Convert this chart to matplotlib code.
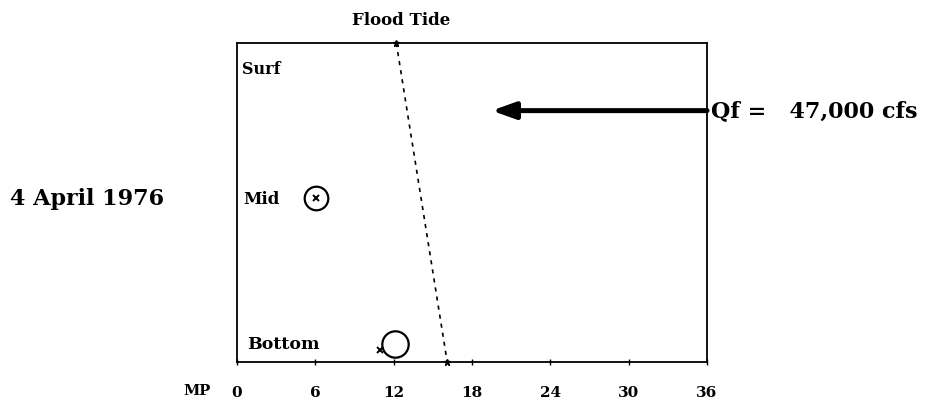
import numpy as np
import matplotlib.pyplot as plt

# river mile (MP) ticks
mp_ticks = [0, 6, 12, 18, 24, 30, 36]
mp_labels = ['0', '6', '12', '18', '24', '30', '36']

# depth levels (0 = bottom, 1 = surface)
level_names = ['Surf', 'Mid', 'Bottom']
level_y = [0.918, 0.508, 0.056]

# observed markers
circ_x = [6.05, 12.1]
circ_y = [0.514, 0.056]
circ_size = [17, 19]
cross_x = [6.05, 10.95]
cross_y = [0.514, 0.038]

# flood tide front line
front_x = [12.2, 16.1]
front_y = [1.0, 0.0]

# river flow arrow
arrow_x = [36.0, 19.5]
arrow_y = 0.788
flow_text = 'Qf =   47,000 cfs'
date_text = '4 April 1976'

serif = 'DejaVu Serif'

fig = plt.figure(figsize=(9.53, 4.03), dpi=100)
ax = fig.add_axes([0.2487, 0.1017, 0.4932, 0.7916])
ax.set_xlim(0, 36)
ax.set_ylim(0, 1)
for s in ax.spines.values():
    s.set_linewidth(1.3)

ax.set_xticks(mp_ticks)
ax.set_xticklabels([])
ax.tick_params(axis='x', direction='inout', length=5, width=1)
ax.set_yticks([])

for xl, lab in zip(mp_ticks, mp_labels):
    ax.text(xl, -0.097, lab, fontsize=11, fontweight='bold', family=serif,
            ha='center', va='center', clip_on=False)
ax.text(-3.1, -0.092, 'MP', fontsize=10.5, fontweight='bold', family=serif,
        ha='center', va='center', clip_on=False)

ax.text(0.4, level_y[0], level_names[0], fontsize=11.5, fontweight='bold',
        family=serif, ha='left', va='center')
ax.text(0.45, level_y[1], level_names[1], fontsize=12, fontweight='bold',
        family=serif, ha='left', va='center')
ax.text(0.8, level_y[2], level_names[2], fontsize=12.5, fontweight='bold',
        family=serif, ha='left', va='center')

# circles and crosses
for x, y, s in zip(circ_x, circ_y, circ_size):
    ax.plot(x, y, 'o', ms=s, mfc='none', mec='k', mew=1.6, clip_on=False)
ax.plot(cross_x, cross_y, 'x', ms=5, color='k', mew=1.4, ls='none', clip_on=False)

# flood tide front
ax.plot(front_x, front_y, 'k--', lw=1.2, dashes=(2.5, 3), clip_on=False)
ax.plot(front_x, front_y, 'k*', ms=5, ls='none', clip_on=False)
ax.text(12.55, 1.072, 'Flood Tide', fontsize=12, fontweight='bold',
        family=serif, ha='center', va='center')

# flow arrow
ax.annotate('', xy=(arrow_x[1], arrow_y), xytext=(arrow_x[0], arrow_y),
            arrowprops=dict(arrowstyle='-|>,head_length=1.4,head_width=0.5',
                            lw=3.6, color='k', shrinkA=0, shrinkB=0))
ax.text(36.3, 0.768, flow_text, fontsize=16, fontweight='semibold', family=serif,
        ha='left', va='baseline', clip_on=False)

fig.text(0.0105, 0.491, date_text, fontsize=16, fontweight='semibold', family=serif,
         ha='left', va='baseline')

plt.savefig('out.png', dpi=100)
